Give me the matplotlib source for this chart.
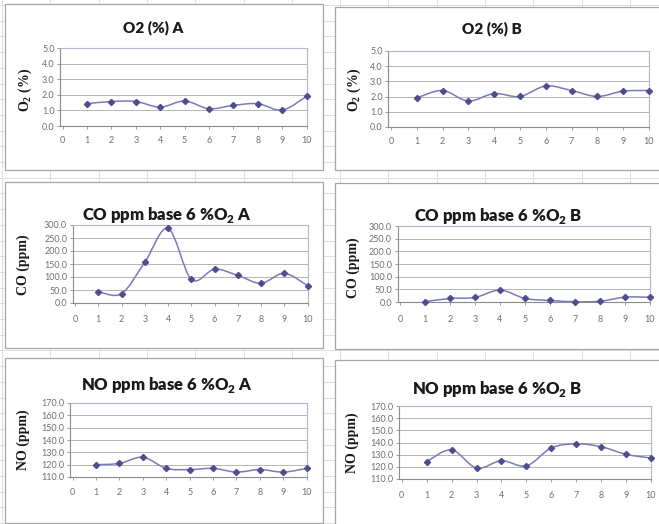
import numpy as np
import matplotlib.pyplot as plt
from matplotlib.path import Path
from matplotlib.patches import PathPatch, Rectangle

plt.rcParams['mathtext.fontset'] = 'custom'
plt.rcParams['mathtext.rm'] = 'Lato:heavy'
plt.rcParams['mathtext.bf'] = 'Liberation Serif:bold'

W, H = 659, 524

# data
runs = list(range(1, 11))
x_ticks = list(range(0, 11))

o2_a = [1.43, 1.57, 1.57, 1.21, 1.60, 1.11, 1.32, 1.43, 1.02, 1.91]
o2_b = [1.91, 2.40, 1.71, 2.20, 2.01, 2.70, 2.40, 2.01, 2.36, 2.40]
co_a = [44, 36, 157, 287, 91, 130, 106, 76, 114, 67]
co_b = [1, 14, 18, 47, 14, 6, 1, 3, 19, 19]
no_a = [120, 121, 126, 117, 116, 117, 114, 116, 114, 117]
no_b = [124.3, 133.9, 119.0, 125.0, 120.8, 135.5, 138.9, 136.5, 130.3, 127.2]

o2_ticks = [0, 1, 2, 3, 4, 5]
co_ticks = [0, 50, 100, 150, 200, 250, 300]
no_ticks = [110, 120, 130, 140, 150, 160, 170]

LINE = '#7a7abb'
MARK = '#4e4e8e'


def smooth_path(xs, ys):
    # excel style smoothed line (bezier through points)
    pts = np.column_stack([xs, ys]).astype(float)
    n = len(pts)
    verts = [pts[0]]
    codes = [Path.MOVETO]
    for i in range(n - 1):
        p0 = pts[max(i - 1, 0)]
        p1 = pts[i]
        p2 = pts[i + 1]
        p3 = pts[min(i + 2, n - 1)]
        verts += [p1 + (p2 - p0) / 6, p2 - (p3 - p1) / 6, p2]
        codes += [Path.CURVE4] * 3
    return Path(verts, codes)


def fx(x):
    return x / W


def fy(y):
    return 1 - y / H


def panel(left, top, right, bottom, ys, yticks, title, txy, tsize, ylab, lxy, lsize, xlab_y):
    ax = fig.add_axes([fx(left), fy(bottom), fx(right - left), (bottom - top) / H])
    ax.set_xlim(-0.1, 10)
    ax.set_ylim(yticks[0], yticks[-1])
    ax.set_yticks(yticks)
    ax.set_yticklabels(['%.1f' % t for t in yticks])
    ax.set_xticks(x_ticks)
    ax.grid(axis='y', color='#b4b4b4', lw=0.7)
    ax.set_axisbelow(True)
    for s in ['top', 'right']:
        ax.spines[s].set_color('#b4b4cc')
        ax.spines[s].set_linewidth(0.8)
    for s in ['left', 'bottom']:
        ax.spines[s].set_color('#8c8c8c')
        ax.spines[s].set_linewidth(0.8)
    pad_x = (xlab_y - bottom - 8) * 0.72
    ax.tick_params(axis='x', direction='out', length=2.5, width=0.6, color='#8c8c8c',
                   pad=pad_x, labelsize=6.5, labelcolor='#707070')
    ax.tick_params(axis='y', direction='out', length=2.5, width=0.6, color='#8c8c8c',
                   pad=1.5, labelsize=6.5, labelcolor='#707070')
    for lab in ax.get_xticklabels() + ax.get_yticklabels():
        lab.set_fontfamily('Lato')
    ax.add_patch(PathPatch(smooth_path(runs, ys), fill=False, edgecolor=LINE, lw=1.1, zorder=3))
    ax.plot(runs, ys, ls='none', marker='D', ms=3.1, color=MARK, zorder=4, clip_on=False)
    fig.text(fx(txy[0]), fy(txy[1]), title, ha='center', va='center',
             fontsize=tsize, fontfamily='Lato', fontweight='heavy', color='#1a1a1a')
    fig.text(fx(lxy[0]), fy(lxy[1]), ylab, ha='center', va='center', rotation=90,
             fontsize=lsize, fontfamily='Liberation Serif', fontweight='bold', color='#1a1a1a')
    return ax


fig = plt.figure(figsize=(W / 100, H / 100), dpi=100)

# spreadsheet background
bg = fig.add_axes([0, 0, 1, 1])
bg.set_xlim(0, W)
bg.set_ylim(H, 0)
bg.axis('off')
for x in np.arange(2, W, 48.3):
    bg.axvline(x, color='#dedede', lw=0.7)
for y in np.arange(5, H, 15.7):
    bg.axhline(y, color='#dedede', lw=0.7)
boxes = [(5, 4, 323, 170), (335, 7, 672, 170),
         (5, 182, 323, 348), (335, 183, 672, 349),
         (5, 358, 323, 523), (335, 360, 672, 530)]
for x0, y0, x1, y1 in boxes:
    bg.add_patch(Rectangle((x0, y0), x1 - x0, y1 - y0, facecolor='white',
                           edgecolor='#a6a6a6', lw=0.9, zorder=2))

panel(60.2, 48, 306.6, 126, o2_a, o2_ticks, 'O2 (%) A', (153, 28), 11,
      r'$\mathbf{O_2}$ (%)', (25, 90), 10, 141)
panel(388.3, 51, 649, 127, o2_b, o2_ticks, 'O2 (%) B', (492, 29), 11,
      r'$\mathbf{O_2}$ (%)', (354, 90), 10, 142)
panel(72.8, 225, 307.5, 303, co_a, co_ticks, 'CO ppm base 6 %O$_2$ A', (167, 215), 12,
      'CO (ppm)', (23, 265), 10, 320)
panel(397.5, 226, 650, 302, co_b, co_ticks, 'CO ppm base 6 %O$_2$ B', (498, 216), 12,
      'CO (ppm)', (353, 268), 10, 320)
panel(70.3, 403, 306.7, 477, no_a, no_ticks, 'NO ppm base 6 %O$_2$ A', (167, 385), 12,
      'NO (ppm)', (23, 440), 10, 493)
panel(399.3, 406, 651, 479, no_b, no_ticks, 'NO ppm base 6 %O$_2$ B', (497, 389), 12,
      'NO (ppm)', (352, 443), 10, 496)

fig.savefig('out.png', dpi=100)
